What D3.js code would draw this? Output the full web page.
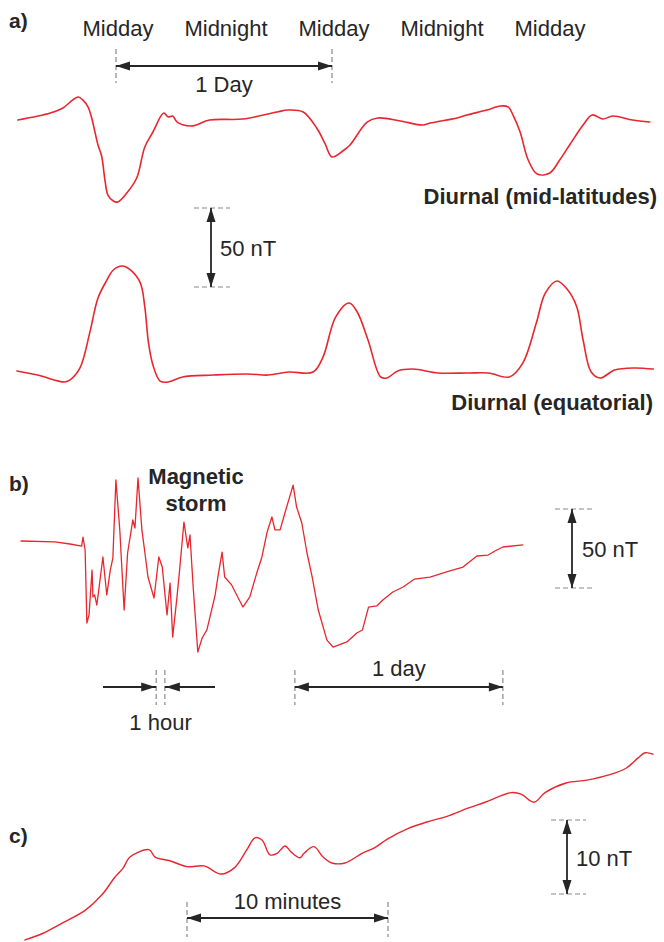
<!DOCTYPE html>
<html>
<head>
<meta charset="utf-8">
<script src="https://cdn.jsdelivr.net/npm/d3@7"></script>
<style>
  html, body { margin: 0; padding: 0; background: #fff; }
  svg { display: block; }
  text { font-family: "Liberation Sans", Arial, Helvetica, sans-serif; fill: #262626; }
</style>
</head>
<body>
<svg id="chart" width="664" height="942"></svg>
<script>
// ---- a) Diurnal variation: hours since midnight of day 1, field in nT ----
const dayLabels = ["Midday", "Midnight", "Midday", "Midnight", "Midday"];
const dayLabelHours = [12, 24, 36, 48, 60];

const midLatHours = [1.1,4.7,6.1,7.2,7.8,8.3,8.9,9.3,10.0,10.4,10.8,11.1,11.7,12.2,13.2,14.3,15.2,16.1,17.3,17.8,18.3,18.8,20.4,22.4,26.1,29.9,31.1,32.8,34.3,35.2,36.0,37.2,38.0,39.9,41.1,43.6,46.1,46.9,49.9,51.0,53.2,54.7,55.6,56.1,56.9,57.8,58.8,60.2,61.3,62.4,63.9,64.9,66.1,67.2,69.4,71.3];
const midLatNT = [0,4.4,7.6,12.7,14.6,12.7,8.2,1.3,-15.8,-22.8,-39.2,-47.5,-51.3,-51.9,-46.2,-36.7,-17.1,-7.6,4.4,1.9,2.5,-1.3,-3.8,0,0.6,5.1,6.3,5.1,-5.1,-14.6,-23.4,-19.6,-15.8,-1.3,1.3,-0.6,-3.2,-1.9,1.3,3.2,6.3,8.9,8.2,3.2,-7.6,-25.3,-34.2,-33.5,-25.3,-15.8,-3.2,3.2,0.6,2.5,0,-1.3];

const eqHours = [1.0,3.3,6.3,6.9,8.0,9.1,10.0,11.0,11.7,12.7,13.6,14.7,15.2,15.6,16.1,16.9,17.8,19.4,22.8,26.6,28.9,31.2,33.9,35.0,36.4,37.9,38.8,40.0,41.4,42.1,43.3,45.0,47.8,51.1,53.4,55.7,57.2,58.7,59.7,61.0,62.2,63.2,63.9,64.8,65.8,67.4,69.6,71.7];
const eqNT = [1.3,-1.3,-5.7,-4.4,3.2,25.9,47.5,58.9,65.2,67.7,65.2,57.0,41.8,19.6,5.1,-5.1,-5.7,-2.5,-1.3,-0.6,-1.3,0.6,0.6,10.1,35.4,44.3,38.6,20.9,-2.5,-3.2,1.3,2.5,0,0,0,-2.5,6.3,31.6,50.6,58.2,52.5,41.8,20.9,0.6,-3.2,1.9,3.2,2.5];

// ---- b) Magnetic storm: hours from start of record, field in nT ----
const stormHours = [0,3.9,5.65,7.0,7.15,7.4,7.6,7.85,8.2,8.3,8.5,8.75,8.9,9.45,9.9,10.3,10.6,10.95,11.4,11.9,12.3,12.9,13.15,13.5,13.95,14.3,14.65,15.35,15.9,16.3,16.85,17.2,17.5,18.0,18.3,18.8,19.25,19.5,19.85,20.4,20.9,21.45,22.4,22.7,23.2,23.5,24.3,25.6,26.4,27.2,27.8,28.4,28.95,29.3,29.9,30.45,31.4,31.8,32.4,33.0,33.6,34.3,35.3,36.0,37.6,38.75,39.4,40.1,41.05,41.75,42.9,44.1,45.4,47.2,49.1,51.0,52.6,53.9,54.9,55.6,57.9];
const stormNT = [1.9,1.3,0,-1.3,4.4,-3.8,-50,-44.9,-16.5,-33.5,-32.3,-38.6,-32.3,-8.2,-32.3,-16.5,-8.9,40.5,8.9,-41.8,-5.7,15.2,10.1,41.8,8.9,-5.7,-20.9,-34.2,-8.2,-14.6,-44.9,-24.7,-58.9,-33.5,-16.5,13.9,-2.5,5.7,-25.9,-68.4,-59.5,-54.4,-32.3,-21.5,-5.1,-20.9,-25.9,-39.9,-33.5,-18.4,-8.2,7.6,17.1,8.9,8.9,19.6,37.3,23.4,13.3,-5.7,-20.9,-41.8,-60.8,-65.2,-62.0,-56.3,-54.4,-39.9,-39.2,-35.4,-30.4,-27.2,-22.2,-20.9,-17.7,-14.6,-7.6,-7.0,-3.8,-1.9,-0.6];

// ---- c) Short-period record: minutes from start, field in nT ----
const shortMinutes = [0,0.9,1.94,2.99,3.83,4.48,4.88,5.22,6.17,6.47,7.21,8.06,8.91,9.75,10.4,11.04,11.44,11.79,12.19,12.54,12.94,13.23,13.68,13.88,14.38,14.83,15.27,15.92,16.77,17.36,18.01,19.1,19.95,20.99,22.04,22.89,24.18,24.68,25.32,25.87,26.92,27.96,29.05,29.9,30.5,30.85,31.24];
const shortNT = [-10.8,-9.9,-8.4,-6.8,-4.7,-2.3,-1.1,0.4,1.4,0.4,-0.1,-0.9,-0.8,-1.9,-1.1,1.4,3.0,2.7,0.7,0.9,1.9,1.1,0.3,0.9,1.8,0.4,-0.4,-0.4,0.9,1.6,2.8,4.3,5.1,5.9,7.0,7.8,9.1,8.9,7.8,9.1,10.4,10.8,11.5,12.4,13.8,14.5,14.3];

// Scale-bar quantities
const barDayHours = 24;
const barHour = 1;
const barNT_a = 50, barNT_b = 50, barNT_c = 10;
const barMinutes = 10;

// ---------------------------------------------------------------
const RED = "#e8262e";
const INK = "#262626";
const DASH = "#8a8a8a";
const FONT = 22;
const svg = d3.select("#chart");

// Scales
const pxPerNT = 1.58;
const xA = d3.scaleLinear().domain([0, 72]).range([8, 8 + 72 * 9]);
const yMid = d3.scaleLinear().domain([0, 50]).range([120, 120 - 50 * pxPerNT]);
const yEq = d3.scaleLinear().domain([0, 50]).range([373, 373 - 50 * pxPerNT]);

const xB = d3.scaleLinear().domain([0, 24]).range([21, 21 + 208]);
const yB = d3.scaleLinear().domain([0, 50]).range([544, 544 - 50 * pxPerNT]);

const xC = d3.scaleLinear().domain([0, 10]).range([25, 25 + 201]);
const yC = d3.scaleLinear().domain([0, 10]).range([860, 860 - 74]);

function zip(xs, ys) { return xs.map((x, i) => [x, ys[i]]); }

function drawTrace(xs, ys, sx, sy, curve, width) {
  const line = d3.line().x(d => sx(d[0])).y(d => sy(d[1])).curve(curve);
  svg.append("path")
    .attr("d", line(zip(xs, ys)))
    .attr("fill", "none")
    .attr("stroke", RED)
    .attr("stroke-width", width)
    .attr("stroke-linejoin", "round")
    .attr("stroke-linecap", "round");
}

// Filled arrowhead with its tip at (x, y), pointing along (dx, dy)
function arrowHead(x, y, dx, dy) {
  const len = 14, half = 4.5;
  const n = Math.hypot(dx, dy); const ux = dx / n, uy = dy / n;
  const bx = x - ux * len, by = y - uy * len;
  svg.append("path")
    .attr("d", `M${x},${y}L${bx - uy * half},${by + ux * half}L${bx + uy * half},${by - ux * half}Z`)
    .attr("fill", INK);
}

function segment(x1, y1, x2, y2) {
  svg.append("line")
    .attr("x1", x1).attr("y1", y1).attr("x2", x2).attr("y2", y2)
    .attr("stroke", INK).attr("stroke-width", 1.8);
}

function dashed(x1, y1, x2, y2) {
  svg.append("line")
    .attr("x1", x1).attr("y1", y1).attr("x2", x2).attr("y2", y2)
    .attr("stroke", DASH).attr("stroke-width", 1.2)
    .attr("stroke-dasharray", "5,3");
}

// Horizontal span with outward arrowheads and dashed end ticks
function hSpan(x1, x2, y, tickTop, tickBottom) {
  dashed(x1, tickTop, x1, tickBottom);
  dashed(x2, tickTop, x2, tickBottom);
  segment(x1, y, x2, y);
  arrowHead(x1, y, -1, 0);
  arrowHead(x2, y, 1, 0);
}

// Vertical span with outward arrowheads and dashed end ticks
function vSpan(x, y1, y2, tickLeft, tickRight) {
  dashed(tickLeft, y1, tickRight, y1);
  dashed(tickLeft, y2, tickRight, y2);
  segment(x, y1, x, y2);
  arrowHead(x, y1, 0, -1);
  arrowHead(x, y2, 0, 1);
}

function label(txt, x, y, opts = {}) {
  svg.append("text")
    .attr("x", x).attr("y", y)
    .attr("dy", "0.36em")
    .attr("text-anchor", opts.anchor || "middle")
    .attr("font-size", opts.size || FONT)
    .attr("font-weight", opts.bold ? "bold" : "normal")
    .text(txt);
}

// ================= Panel a =================
label("a)", 9, 20, { anchor: "start", bold: true, size: 21 });
dayLabels.forEach((t, i) => label(t, xA(dayLabelHours[i]) + 2, 28));

hSpan(xA(12), xA(12 + barDayHours), 66, 49, 83);
label("1 Day", (xA(12) + xA(12 + barDayHours)) / 2, 84);

drawTrace(midLatHours, midLatNT, xA, yMid, d3.curveCatmullRom.alpha(0.5), 1.6);
label("Diurnal (mid-latitudes)", 657, 196, { anchor: "end", bold: true });

{
  const top = 208, span = yMid(0) - yMid(barNT_a);
  vSpan(211, top, top + span, 194, 230);
  label(`${barNT_a} nT`, 220, top + span / 2 + 1, { anchor: "start" });
}

drawTrace(eqHours, eqNT, xA, yEq, d3.curveCatmullRom.alpha(0.5), 1.6);
label("Diurnal (equatorial)", 653, 402, { anchor: "end", bold: true });

// ================= Panel b =================
label("b)", 9, 483, { anchor: "start", bold: true, size: 21 });
label("Magnetic", 196, 476, { bold: true });
label("storm", 196, 503, { bold: true });

drawTrace(stormHours, stormNT, xB, yB, d3.curveLinear, 1.3);

{
  const top = 509, span = yB(0) - yB(barNT_b);
  vSpan(572, top, top + span, 555, 592);
  label(`${barNT_b} nT`, 582, top + span / 2 + 1, { anchor: "start" });
}

{
  // one-hour interval marked by two inward arrows
  const h0 = 15.6, xa = xB(h0), xb = xB(h0 + barHour), y = 687;
  dashed(xa, 670, xa, 705);
  dashed(xb, 670, xb, 705);
  segment(103, y, xa, y); arrowHead(xa - 1, y, 1, 0);
  segment(xb, y, 215, y); arrowHead(xb + 1, y, -1, 0);
  label("1 hour", (xa + xb) / 2, 722);

  const d0 = 31.6, xd1 = xB(d0), xd2 = xB(d0 + barDayHours);
  hSpan(xd1, xd2, y, 670, 705);
  label("1 day", (xd1 + xd2) / 2, 668);
}

// ================= Panel c =================
label("c)", 9, 835, { anchor: "start", bold: true, size: 21 });

drawTrace(shortMinutes, shortNT, xC, yC, d3.curveCatmullRom.alpha(0.5), 1.4);

{
  const top = 820, span = yC(0) - yC(barNT_c);
  vSpan(567, top, top + span, 551, 586);
  label(`${barNT_c} nT`, 576, top + span / 2 + 1, { anchor: "start" });
}

{
  const m0 = 8.06, x1 = xC(m0), x2 = xC(m0 + barMinutes);
  hSpan(x1, x2, 918, 902, 937);
  label(`${barMinutes} minutes`, (x1 + x2) / 2, 901);
}
</script>
</body>
</html>
